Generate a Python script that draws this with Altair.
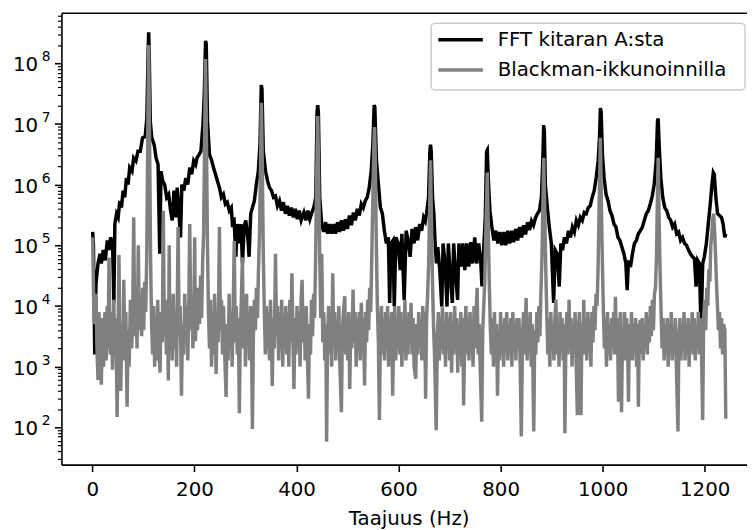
import altair as alt
import pandas as pd

# ---- data (frequency in Hz, log10 of magnitude) ----
black_pts = [
    (0.5,5.22),(2,5.03),(4.6,3.2),(7,4.37),(11,4.7),(15,4.86),(17.5,4.7),(21.4,4.92),(25.3,4.75),(29.2,5.08),
    (32.4,4.92),(35.6,5.13),(39.5,5.03),(42.1,4.05),(44,5.35),(47.3,5.52),(50.5,5.46),(53.7,5.73),(57,5.62),(60.2,5.9),
    (63.4,5.79),(66.7,6.11),(69.9,6.0),(73.1,6.28),(77.6,6.22),(80.9,6.44),(85.4,6.39),(89.3,6.55),(93.8,6.55),(98.3,6.77),
    (103.5,6.79),(106.7,7.09),(109.3,8.2),(110.3,8.51),(111.3,8.2),(113.5,7.04),(116.4,6.77),(121,6.66),(124.8,6.44),(128.7,6.33),
    (132,4.86),(134.5,6.22),(137.8,6.06),(141.6,6.0),(145.5,5.79),(149.4,5.84),(153.3,5.57),(156.5,5.41),(159.8,5.9),(163.6,5.46),
    (166.2,5.95),(169.4,5.57),(172.7,5.13),(175.3,6.0),(179.1,5.9),(183,6.11),(186.9,6.0),(190.8,6.28),(194.7,6.17),(198.5,6.39),
    (202.4,6.33),(205,6.44),(208.8,6.49),(212.7,6.55),(216.6,6.98),(219.2,7.47),(221.8,8.37),(223.1,8.32),(225.6,7.04),(229.5,6.49),
    (233.4,6.41),(237.3,6.28),(241.2,6.17),(245,6.06),(249,5.95),(252.8,5.79),(256.7,5.84),(260.6,5.68),(264.4,5.71),(268.3,5.57),
    (272.2,5.62),(274.8,5.30),(277.4,5.46),(281.2,4.81),(283.8,5.35),(287.7,5.03),(291,5.35),(294.2,4.70),(297.4,5.30),(300.6,5.41),
    (304.5,5.13),(307.1,4.81),(310.3,5.52),(313.6,5.62),(317.4,5.73),(321.3,6.0),(325.2,6.22),(328.4,6.66),(331,7.64),(332.3,7.58),
    (334.9,6.55),(339.4,6.22),(343.3,6.06),(347.2,5.95),(351.1,5.9),(354.9,5.79),(358.8,5.81),(362.7,5.65),(366.6,5.73),(370.5,5.57),
    (374.3,5.71),(378.2,5.52),(382.1,5.65),(386,5.49),(389.9,5.62),(393.7,5.46),(397.6,5.6),(401.5,5.43),(405.4,5.57),(409.2,5.41),
    (414.5,5.54),(418.4,5.41),(422.2,5.57),(426.1,5.43),(430,5.54),(433.9,5.62),(437.8,5.79),(440.3,7.2),(441.6,7.31),(442.9,7.2),
    (445.5,5.79),(449.4,5.35),(453.3,5.22),(457.1,5.38),(461,5.19),(464.9,5.35),(468.8,5.19),(472.7,5.35),(476.5,5.19),(480.4,5.38),
    (484.3,5.22),(488.2,5.41),(492,5.24),(495.9,5.43),(499.8,5.27),(503.7,5.49),(507.6,5.33),(511.5,5.54),(515.3,5.41),(519.2,5.6),
    (523.1,5.49),(527,5.68),(530.9,5.62),(534.7,5.73),(538.6,5.79),(542.5,5.95),(546.4,6.22),(549.6,6.66),(552.2,7.31),(553.5,7.28),
    (556.7,6.39),(560.6,6.0),(564.5,5.62),(568.3,5.52),(572.2,5.24),(576.1,5.03),(580,5.13),(582.6,4.05),(585.2,5.03),(589.1,5.08),
    (591.6,3.99),(594.9,5.13),(599.4,5.03),(603.3,4.59),(606.5,5.19),(611,4.1),(614.9,5.24),(618.8,5.08),(622.7,4.81),(626.5,5.27),
    (630.4,5.03),(633.6,5.3),(637.5,5.08),(641.4,5.35),(645.3,5.24),(649.2,5.46),(652.5,5.4),(654.9,5.52),(658.8,5.79),(661.4,6.55),
    (662.7,6.66),(664,6.55),(666.6,5.79),(669.2,5.52),(671.7,5.03),(674.3,4.7),(676.9,4.97),(680.8,4.59),(684.7,3.99),(687.3,5.03),
    (691.1,4.7),(695,3.99),(697.6,5.03),(701.5,4.48),(705.4,4.05),(708,5.03),(711.8,4.54),(715.7,4.1),(718.3,5.03),(722.2,4.65),
    (726,5.03),(729.9,4.59),(733.8,5.03),(737.7,4.65),(741.6,5.05),(745.4,4.7),(749.3,5.13),(753.2,4.7),(757.1,5.03),(761,4.75),
    (763.5,4.32),(767.4,5.03),(770,5.46),(772.6,6.55),(773.9,6.57),(775.8,6.11),(779.1,5.57),(782.9,5.3),(786.8,5.08),(790.7,5.24),
    (794.6,5.03),(798.5,5.22),(802.3,5.0),(806.2,5.22),(810.1,5.0),(814,5.24),(817.9,5.03),(821.7,5.24),(825.6,5.05),(829.5,5.27),
    (833.4,5.08),(837.2,5.30),(841.2,5.13),(845.1,5.33),(848.9,5.18),(852.8,5.38),(856.7,5.25),(860.6,5.4),(864.5,5.33),(868.3,5.45),
    (872.2,5.52),(876.1,5.57),(880,5.79),(882.6,6.39),(884.5,6.98),(885.8,6.87),(887.7,6.0),(891.6,5.62),(895.5,5.30),(899.4,5.03),
    (903.9,4.05),(907.1,4.92),(911,4.86),(914.9,4.32),(918.1,5.03),(921.4,4.92),(925.2,5.13),(929.1,5.03),(933,5.24),(936.9,5.13),
    (940.7,5.30),(944.6,5.22),(948.5,5.41),(952.4,5.33),(956.3,5.46),(960.1,5.41),(964,5.54),(967.9,5.52),(971.8,5.62),(975.6,5.65),
    (979.5,5.79),(983.4,5.9),(987.3,6.11),(991.2,6.39),(993.8,6.77),(995.6,7.26),(997,7.2),(999.6,6.49),(1002.8,6.11),(1006.7,5.84),
    (1010.6,5.73),(1014.4,5.57),(1018.3,5.49),(1022.2,5.35),(1026.1,5.30),(1030,5.13),(1033.8,5.08),(1037.7,4.97),(1041.6,4.86),(1045.5,4.7),
    (1048,4.26),(1050.6,4.75),(1054.5,4.64),(1058.4,4.86),(1062.2,5.03),(1066.1,5.08),(1070,5.19),(1073.9,5.24),(1077.8,5.30),(1081.6,5.41),
    (1085.5,5.52),(1089.4,5.57),(1093.3,5.68),(1097.2,5.81),(1101,6.0),(1104.9,6.39),(1107.5,7.04),(1108.8,7.09),(1110.7,6.66),(1114,6.11),
    (1117.8,5.79),(1121.7,5.62),(1125.6,5.57),(1129.5,5.46),(1133.4,5.41),(1137.2,5.30),(1141.1,5.35),(1145,5.19),(1148.9,5.22),(1152.7,5.08),
    (1156.6,5.13),(1160.5,5.03),(1164.4,5.0),(1168.3,4.92),(1172.1,4.86),(1176,4.81),(1179.9,4.78),(1183.1,4.32),(1186.3,4.75),(1189.6,4.7),
    (1192.8,3.61),(1196.1,4.7),(1199.3,4.81),(1203.2,5.03),(1207,5.35),(1210.9,5.68),(1214.2,6.0),(1216.8,6.2),(1218.7,6.17),(1221.9,5.79),
    (1225.2,5.52),(1229,5.49),(1232.9,5.46),(1236.1,5.35),(1239.4,5.13),(1241.3,5.19),
]

gray_pts = [
    (0.5,5.13),(2.5,4.1),(4.5,3.7),(7,4.2),(9,3.3),(11,2.78),(13,3.9),(15.5,3.2),(17.5,2.7),(20,3.8),(22,3.0),(24.5,3.9),
    (27,3.1),(29,4.0),(31,3.3),(32.5,4.8),(35,3.2),(37,3.9),(39.5,2.95),(42,4.1),(44,3.2),(46,3.8),(48.5,2.17),(50.5,3.6),
    (52,4.84),(54,3.3),(55.5,2.6),(58,3.7),(60,3.1),(61.5,4.43),(63.5,3.4),(65.5,3.9),(68,2.34),(70,3.6),(72,3.0),(74.5,4.1),
    (77,3.3),(79,3.9),(81,5.46),(83,3.5),(85.5,4.2),(87.5,3.3),(90,5.0),(92,3.6),(94,4.1),(96.5,3.5),(98.5,4.3),(100.5,3.6),
    (102.5,4.4),(104.5,3.9),(106.5,4.8),(108.5,6.8),(110.3,8.3),(112,6.8),(114,4.8),(116,3.7),
    (118,3.2),(120,4.0),(122,3.0),(124,3.8),(126,3.1),(128,4.1),(130,3.3),(132.6,2.9),(134.5,3.9),(137,3.4),(139,5.57),(141,3.5),
    (143,4.0),(145,3.2),(147,4.1),(148.8,2.77),(150.5,5.0),(152,3.4),(154,4.0),(156.5,3.1),(158.5,4.2),(160.5,3.3),(163,3.9),(165,3.0),
    (168,5.3),(170,3.5),(172,4.0),(174.6,2.52),(176.5,3.7),(179,3.2),(181,4.2),(183,3.4),(185,4.0),(187,3.1),(189,4.1),(190.8,5.35),
    (193,3.6),(195,4.1),(197,3.3),(199,4.0),(200.5,5.13),(202,3.42),(204,4.2),(206,3.6),(208,4.3),(210,3.7),(212,4.5),(214,3.8),
    (216,4.7),(218,5.2),(220,6.8),(221.8,8.07),(223.5,6.8),(225.5,5.0),(227.5,3.9),
    (229.5,3.3),(231.5,4.1),(233.5,3.0),(235.5,3.8),(237.5,3.2),(239.5,4.2),(242.5,2.88),(244.5,3.9),(246.5,3.4),(249,5.3),(251,3.6),
    (253,4.1),(255,3.2),(257,4.0),(259,3.3),(262,2.5),(264,3.7),(266,3.1),(268,4.2),(270,3.3),(272,3.9),(274,3.0),(276,4.0),
    (278,5.07),(280,3.4),(282,4.0),(284,3.2),(286,3.8),(288,2.23),(290,3.6),(292,4.1),(294,4.8),(296,3.3),(298,3.9),(300,3.0),
    (302,4.2),(304,3.4),(306,3.8),(308,3.1),(310,4.0),(312,3.3),(313.6,1.97),(315.5,3.5),(317.5,4.1),(319.5,3.6),(321.5,4.3),
    (323.5,3.8),(325.5,4.6),(327.5,5.2),(329.5,6.3),(331.2,7.35),(333,6.3),(335,4.8),(337,3.9),
    (339,3.2),(341,4.0),(343,3.3),(345,3.9),(347,3.1),(349,4.1),(351,3.4),(352.5,2.68),(354.5,3.8),(356.5,3.3),(358.8,4.86),
    (361,3.5),(363,4.0),(365,3.1),(367,3.9),(369,3.3),(371,4.1),(373,3.0),(375,3.8),(377,3.4),(379,4.0),(381,3.2),(383,3.9),
    (385,3.0),(387,4.1),(389,3.4),(391,4.54),(393,3.5),(395,2.63),(397,3.8),(399,3.2),(401,4.0),(403,3.3),(405,3.9),(407,3.0),
    (409,4.1),(411,4.43),(413,3.4),(415,3.9),(417,3.1),(419,4.0),(421,3.3),(423.5,2.47),(425.5,3.7),(427.5,3.2),(429.5,4.1),
    (431.5,3.5),(433.5,4.2),(435.5,3.8),(437.5,4.8),(439.5,6.1),(441.6,7.13),(443.5,6.1),(445.5,4.84),(447.5,3.8),
    (449.5,4.86),(451.5,3.4),(453.5,3.9),(455.5,3.1),(457.5,3.7),(459,1.76),(461,3.5),(463,4.0),(465,3.2),(467,3.8),(469,3.0),
    (471,4.54),(473,3.4),(475,3.9),(477,3.1),(479,3.7),(481,3.3),(483,4.0),(485,3.0),(488,2.25),(490,3.6),(492,3.9),(494.6,4.16),
    (496.5,3.2),(498.5,3.8),(500.5,3.1),(502.5,3.9),(504.3,2.63),(506.5,3.7),(508.5,3.3),(510.8,4.27),(513,3.4),(515,3.9),(517,3.0),
    (519,3.8),(521,3.3),(523,3.9),(525,3.1),(527,4.05),(529,3.4),(531,3.8),(533.4,2.69),(535.5,3.9),(537.5,3.4),(539.5,4.1),
    (541.5,3.6),(543.5,4.3),(545.5,3.9),(547.5,4.8),(549.5,5.7),(551.5,6.6),(553,6.95),(554.5,6.4),(556.5,5.0),(558.5,4.0),
    (560.5,3.4),(562.5,2.12),(564.5,3.6),(566.5,4.0),(568.5,3.2),(570.5,3.8),(572.5,3.1),(574.5,3.9),(576.5,3.3),(578.5,4.0),
    (580.5,3.0),(582.5,3.8),(584.5,3.2),(586.5,3.9),(588.4,2.52),(590.5,3.5),(592.5,4.0),(594.5,3.1),(596.5,3.7),(598.5,3.3),
    (600.5,4.0),(602.5,3.2),(604.5,3.9),(606.5,3.0),(608.5,3.7),(610.5,3.3),(612.5,4.1),(614.5,3.1),(616.5,3.8),(618.5,3.2),
    (620.5,3.9),(622.5,3.4),(624.5,4.05),(626.5,3.2),(628.5,3.8),(630.5,3.0),(633.6,2.8),(635.5,3.7),(637.5,3.2),(639.5,3.9),
    (641.5,3.3),(643.5,3.8),(645.5,3.1),(647.5,4.0),(649.5,3.4),(651.5,3.9),(653,2.47),(655,3.8),(657,4.2),(659,4.7),(661,5.6),
    (662.7,6.4),(664.5,5.4),(666.5,4.4),(668.5,3.7),(670.5,3.2),(673.8,1.95),(676,3.5),(678,3.9),(680,3.1),(682,3.8),(684,3.3),
    (686,4.0),(688,3.2),(690,3.7),(692,3.0),(694,3.9),(696,3.4),(698,3.8),(700,3.1),(702,3.9),(704,2.9),(706,3.7),(708,3.2),
    (710,4.0),(712,3.3),(714,3.8),(716,2.9),(718,3.7),(720,3.2),(722,3.9),(724,3.0),(726,3.8),(727.5,2.36),(730,3.6),(732,4.0),
    (734,3.2),(736,3.8),(738,3.1),(740,3.9),(742,3.4),(744,3.7),(746,3.0),(748,4.0),(750,3.3),(752,3.9),(754,4.3),(756,3.2),
    (758,3.7),(760,3.0),(763,2.09),(765,3.6),(767,4.0),(769,4.4),(771,5.2),(773.9,6.2),(776,5.2),(778,4.3),(780,3.6),(782,3.2),
    (784,3.8),(786,3.0),(788,3.9),(790,3.3),(792,3.7),(794,2.52),(796,3.6),(798,3.1),(800,3.9),(802,3.2),(804,3.7),(806,3.0),
    (808,3.8),(810,3.3),(812,3.9),(814,3.1),(816,3.7),(818,3.2),(820,3.8),(822,3.0),(824,3.9),(826,3.3),(828,3.7),(830,3.1),
    (832,3.8),(834,3.4),(836,3.8),(838,3.2),(840.6,1.85),
    (843,3.5),(845,3.9),(847,3.2),(850,4.13),(852,3.1),(854,3.8),(856,3.3),(858,3.9),(860,3.0),(862,3.7),(865,1.93),(867,3.6),
    (869,3.2),(871,3.9),(873,3.4),(875,4.0),(877,3.5),(879,4.2),(881,4.8),(883,5.7),(884.5,6.44),(886.5,5.6),(888.5,4.6),
    (890.5,3.9),(892.5,3.2),(894.5,3.8),(896.5,3.0),(898.5,3.9),(900.5,3.3),(902.5,3.7),(904.5,3.1),(906.5,3.8),(908.4,4.1),
    (910.5,3.2),(912.5,3.7),(914.5,3.0),(916.5,3.9),(918.5,3.3),(920.5,3.8),(922.5,3.1),(924.5,3.7),(926,1.9),(928,3.5),(930,3.9),
    (932,3.2),(934.2,4.1),(936,3.3),(938,3.8),(940,3.0),(942,3.7),(944,3.2),(946,3.9),(948,3.1),(950.4,2.2),(952.5,3.6),(954.5,3.9),
    (957.5,2.2),(959.5,3.7),(961.5,3.3),(963,4.1),(965,3.2),(967,3.8),(969,3.1),(971,3.9),(973,3.3),(975,3.8),(977,3.0),(979,3.9),
    (981,3.4),(983,4.0),(985,3.6),(987,4.2),(989,4.0),(991,4.6),(993,5.6),(995.6,6.77),(997.5,5.7),(999.5,4.7),(1001.5,3.9),
    (1003.5,3.3),(1005.5,3.8),(1007.5,3.0),(1009.5,3.9),(1011.5,3.2),(1013.5,3.7),(1015.5,3.1),(1017.5,3.8),(1019.5,3.3),
    (1021.5,3.9),(1023.5,3.2),(1025,4.15),(1027,3.4),(1029,3.8),(1031,2.42),(1033,3.6),(1035,3.9),(1037,2.25),(1039,3.6),
    (1041,3.2),(1043,3.9),(1045,3.1),(1047,3.8),(1049,3.3),(1050.6,2.42),(1052.5,3.7),(1054.5,3.2),(1056.5,3.9),(1058.5,3.1),
    (1060.5,3.7),(1062.5,3.3),(1064.5,3.8),(1066.5,3.0),(1068.5,3.7),(1070,2.34),(1072,3.6),(1073.5,3.77),(1075.5,3.2),
    (1077.5,3.8),(1079.5,3.1),(1081.5,3.7),(1083.5,3.3),(1085.5,3.9),(1087.5,3.2),(1089.5,3.8),(1091.5,3.4),(1093.5,4.0),
    (1095.5,3.5),(1097.5,4.1),(1099.5,3.6),(1101.5,4.2),(1103.5,4.3),(1105.5,4.8),(1107,5.6),(1108.8,6.44),(1110.5,5.5),
    (1112.5,4.6),(1114.5,3.9),(1116.5,3.3),(1118.5,3.8),(1120.5,3.1),(1122.5,3.7),(1124.5,3.2),(1126.5,3.8),(1128.5,3.0),
    (1130.5,3.7),(1132.5,3.3),(1134.5,3.9),(1136.5,3.1),(1138.5,3.6),(1140.5,3.2),(1142.5,3.8),(1144.5,3.0),(1147.6,1.93),
    (1149.5,3.5),(1151.5,3.8),(1153.5,3.1),(1155.5,3.7),(1157.5,3.3),(1159.5,3.9),(1161.5,3.1),(1163.5,3.7),(1165.5,3.2),
    (1167.5,3.8),(1169.5,3.0),(1171.5,3.7),(1173.5,3.3),(1175.5,3.9),(1177.5,3.2),(1179.5,3.8),(1181.5,3.1),(1183.5,3.7),
    (1185.5,3.3),(1187.5,3.9),(1189.5,3.2),(1191.5,3.8),(1193.5,3.4),(1196,2.12),(1198,3.8),(1200,4.1),(1202,3.6),(1204,4.3),
    (1206,4.0),(1208,4.6),(1210,4.4),(1212,5.0),(1214,5.2),(1216,5.45),(1217.4,5.52),(1219,5.3),(1221,4.9),(1223,4.4),(1225,4.0),
    (1227,3.6),(1229,3.9),(1231,3.3),(1233,3.8),(1235,3.2),(1237,3.7),(1239.5,3.6),(1241.3,2.14),
]

x_ticks = [0, 200, 400, 600, 800, 1000, 1200]
y_major = [1e2, 1e3, 1e4, 1e5, 1e6, 1e7, 1e8]
y_exponents = ["2", "3", "4", "5", "6", "7", "8"]
y_minor = [m * 10 ** e for e in range(1, 9) for m in range(2, 10) if 24.3 < m * 10 ** e < 6.79e8]
legend_labels = ["FFT kitaran A:sta", "Blackman-ikkunoinnilla"]
x_title = "Taajuus (Hz)"

df_black = pd.DataFrame({"hz": [p[0] for p in black_pts], "amp": [10 ** p[1] for p in black_pts]})
df_gray = pd.DataFrame({"hz": [p[0] for p in gray_pts], "amp": [10 ** p[1] for p in gray_pts]})
df_exp = pd.DataFrame({"amp": y_major, "e": y_exponents})

FONT = "DejaVu Sans"
LW = 3.5
xs = alt.Scale(domain=[-60.7, 1282.9], nice=False, zero=False)
ys = alt.Scale(type="log", domain=[24.27, 6.79e8], nice=False)

x_axis = alt.Axis(values=x_ticks, format="d", orient="bottom", tickSize=7, labelPadding=8,
                  labelFontSize=20, labelFlush=False, labelOverlap=False,
                  title=x_title, titleFontSize=20, titleFontWeight="normal",
                  titleX=351, titleY=61, titleAlign="center", titleBaseline="alphabetic")
# mantissa "10" of the log labels; the exponent is drawn as a smaller raised text
y_axis = alt.Axis(values=y_major, labelExpr="'10'", orient="left", tickSize=7, labelPadding=17,
                  labelFontSize=20, labelFlush=False, labelOverlap=False, labelOffset=1.5, title=None)
y_axis_minor = alt.Axis(values=y_minor, orient="left", labels=False, domain=False, tickSize=4,
                        tickWidth=1.2, title=None)
x_axis_top = alt.Axis(orient="top", labels=False, ticks=False, domain=True, title=None)

black = alt.Chart(df_black).mark_line(color="black", strokeWidth=LW, clip=True).encode(
    x=alt.X("hz:Q", scale=xs, axis=x_axis),
    y=alt.Y("amp:Q", scale=ys, axis=y_axis),
)
gray = alt.Chart(df_gray).mark_line(color="#808080", strokeWidth=LW, clip=True).encode(
    x=alt.X("hz:Q", scale=xs, axis=x_axis_top),
    y=alt.Y("amp:Q", scale=ys, axis=y_axis_minor),
)
exps = alt.Chart(df_exp).mark_text(font=FONT, fontSize=14, color="black", align="right",
                                   baseline="middle", dy=-6).encode(
    x=alt.value(-11),
    y=alt.Y("amp:Q", scale=ys, axis=None),
    text="e:N",
)

one = alt.Data(values=[{}])
leg_box = alt.Chart(one).mark_rect(fill="white", fillOpacity=0.8, stroke="#cccccc", strokeWidth=1.5,
                                   cornerRadius=4).encode(
    x=alt.value(373.7), x2=alt.value(691), y=alt.value(10.5), y2=alt.value(78))
leg_l1 = alt.Chart(one).mark_rule(color="black", strokeWidth=LW).encode(
    x=alt.value(381), x2=alt.value(426), y=alt.value(27.3))
leg_l2 = alt.Chart(one).mark_rule(color="#808080", strokeWidth=LW).encode(
    x=alt.value(381), x2=alt.value(426), y=alt.value(57.8))
leg_t1 = alt.Chart(one).mark_text(font=FONT, fontSize=20, color="black", align="left", baseline="middle").encode(
    x=alt.value(441), y=alt.value(27.3), text=alt.value(legend_labels[0]))
leg_t2 = alt.Chart(one).mark_text(font=FONT, fontSize=20, color="black", align="left", baseline="middle").encode(
    x=alt.value(441), y=alt.value(57.8), text=alt.value(legend_labels[1]))

chart = alt.layer(black, gray, exps, leg_box, leg_l1, leg_l2, leg_t1, leg_t2).resolve_axis(
    x="independent", y="independent"
).properties(
    width=693, height=456.7,
    autosize=alt.AutoSizeParams(type="none"),
    padding={"left": 54, "top": 2, "right": 0, "bottom": 66},
).configure_view(stroke=None).configure_axis(
    labelFont=FONT, titleFont=FONT, labelColor="black", titleColor="black",
    domainColor="black", tickColor="black", domainWidth=1.6, tickWidth=1.6, grid=False,
)

chart.save("out.html", embed_options={"renderer": "svg", "actions": False})
